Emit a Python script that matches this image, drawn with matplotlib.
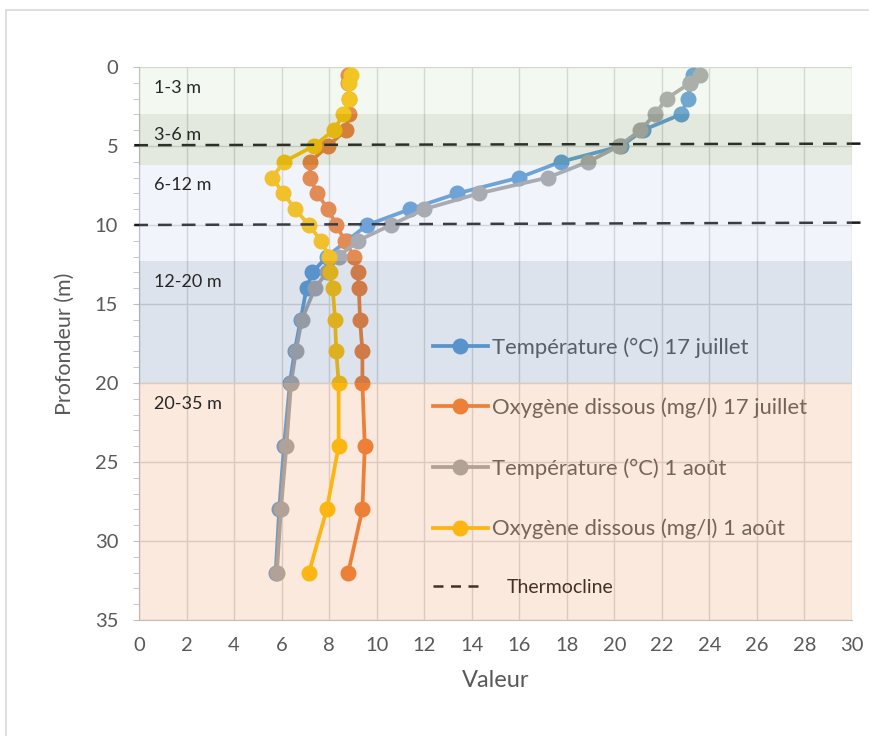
import matplotlib
matplotlib.use("Agg")
import matplotlib.pyplot as plt
from matplotlib.patches import Rectangle
from matplotlib.lines import Line2D

plt.rcParams['font.family'] = ['Lato', 'DejaVu Sans']

# Data
depth = [0.5, 1, 2, 3, 4, 5, 6, 7, 8, 9, 10, 11, 12, 13, 14, 16, 18, 20, 24, 28, 32]
temp_jul = [23.3, 23.2, 23.1, 22.8, 21.2, 20.3, 17.75, 16.0, 13.4, 11.4, 9.6, 8.75, 7.9,
            7.3, 7.05, 6.8, 6.55, 6.35, 6.1, 5.9, 5.75]
oxy_jul = [8.8, 8.8, 8.85, 8.83, 8.7, 7.95, 7.2, 7.2, 7.5, 7.95, 8.3, 8.66, 9.05,
           9.2, 9.25, 9.3, 9.4, 9.4, 9.5, 9.4, 8.8]
temp_aug = [23.6, 23.2, 22.2, 21.7, 21.1, 20.2, 18.9, 17.2, 14.3, 12.0, 10.6, 9.2, 8.4,
            7.9, 7.4, 6.85, 6.6, 6.4, 6.2, 5.97, 5.8]
oxy_aug = [8.9, 8.85, 8.85, 8.6, 8.2, 7.35, 6.1, 5.6, 6.07, 6.57, 7.15, 7.66, 8.0,
           8.04, 8.15, 8.25, 8.3, 8.4, 8.4, 7.9, 7.15]

series_labels = ['Température (°C) 17 juillet', 'Oxygène dissous (mg/l) 17 juillet',
                 'Température (°C) 1 août', 'Oxygène dissous (mg/l) 1 août']

thermo_x = [-0.2, 30.4]
thermo_top = [4.95, 4.85]
thermo_bottom = [10.0, 9.85]

band_edges = [0, 3, 6.2, 12.3, 20, 35]
band_labels = ['1-3 m', '3-6 m', '6-12 m', '12-20 m', '20-35 m']

series_colors = ['#5b9bd5', '#ed7d31', '#a5a5a5', '#ffc000']
band_colors = ['#c3dcb4', '#73915a', '#b9c8e6', '#5573a5', '#eb915a']

fig = plt.figure(figsize=(8.7, 7.36), dpi=100)
ax = fig.add_axes([139 / 870, 1 - 620 / 736, 713 / 870, 553 / 736])

lines = []
for vals, col, lab in zip([temp_jul, oxy_jul, temp_aug, oxy_aug], series_colors, series_labels):
    ln, = ax.plot(vals, depth, '-o', color=col, lw=2.7, ms=10.5, label=lab, zorder=3)
    lines.append(ln)

dash = (0, (5.5, 4))
for yy in (thermo_top, thermo_bottom):
    ax.plot(thermo_x, yy, color='#1a1a1a', lw=1.8, ls=dash, zorder=4, clip_on=False)

# translucent depth bands drawn over everything, like the Excel shapes
for i, lab in enumerate(band_labels):
    ax.axhspan(band_edges[i], band_edges[i + 1], color=band_colors[i], alpha=0.2, lw=0, zorder=6)
    ax.text(0.65, band_edges[i] + 1.3, lab, fontsize=13, color='#262626', va='center', zorder=7)

ax.set_xlim(0, 30)
ax.set_ylim(35, 0)
ax.set_xticks(range(0, 31, 2))
ax.set_yticks(range(0, 36, 5))
ax.set_yticks(range(0, 36), minor=True)
ax.grid(True, color='#d9d9d9', lw=1)
ax.set_axisbelow('line')

for s in ['top', 'right']:
    ax.spines[s].set_visible(False)
for s in ['left', 'bottom']:
    ax.spines[s].set_color('#bfbfbf')
ax.tick_params(axis='x', length=0, pad=12, labelsize=14.5, labelcolor='#595959')
ax.tick_params(axis='y', which='both', length=4, direction='out', color='#bfbfbf',
               pad=11, labelsize=14.5, labelcolor='#595959')
ax.tick_params(axis='y', which='minor', length=4)

ax.set_xlabel('Valeur', fontsize=17, color='#595959', labelpad=12)
ax.set_ylabel('Profondeur (m)', fontsize=15.5, color='#595959', labelpad=14)

leg = ax.legend(handles=lines, loc='upper left', bbox_to_anchor=(433 / 870, 1 - 337 / 736),
                bbox_transform=fig.transFigure, frameon=False, fontsize=15.8,
                labelspacing=1.82, handlelength=2.5, handletextpad=0.2, borderpad=0,
                borderaxespad=0, labelcolor='#595959')
leg.set_zorder(5)
ax.add_artist(leg)

th = Line2D([], [], color='#1a1a1a', lw=1.8, ls=(0, (4, 3)))
leg2 = ax.legend(handles=[th], labels=['Thermocline'], loc='upper left',
                 bbox_to_anchor=(433 / 870, 1 - 579 / 736), bbox_transform=fig.transFigure,
                 frameon=False, fontsize=14, handlelength=2.5, handletextpad=1.3,
                 borderpad=0, borderaxespad=0, labelcolor='#1a1a1a')
leg2.set_zorder(5)

fig.add_artist(Rectangle((6 / 870, -0.1), 2, 1.1 - 10 / 736, transform=fig.transFigure,
                         fill=False, edgecolor='#d9d9d9', lw=1.2))

fig.savefig('out.png', dpi=100)
